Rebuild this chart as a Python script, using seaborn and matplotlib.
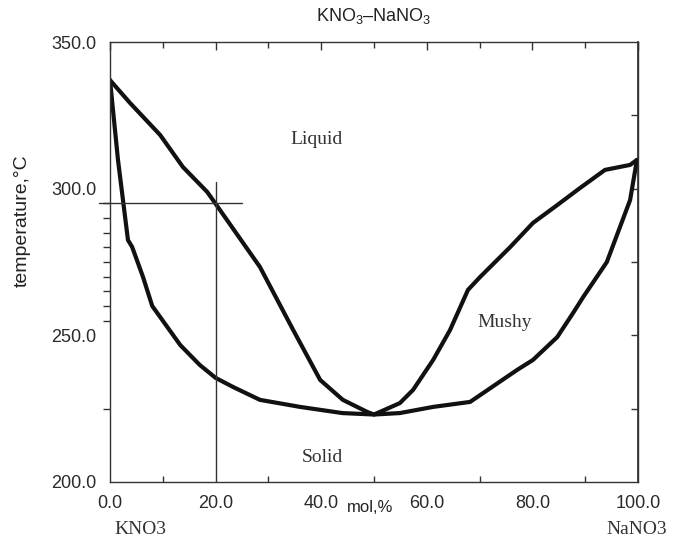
import matplotlib
matplotlib.use("Agg")
import matplotlib.pyplot as plt
import seaborn as sns
import pandas as pd

# Liquidus (upper boundary), mol % NaNO3 vs temperature
liq_x = [0.0, 3.8, 9.5, 13.8, 18.4, 19.9, 28.4, 34.7, 39.8, 44.1, 48.7, 50.0,
         54.9, 57.4, 61.2, 64.4, 67.8, 70.1, 75.8, 80.1, 84.7, 89.0, 93.75, 98.5, 99.8]
liq_t = [337.0, 329.2, 318.3, 307.4, 298.9, 295.1, 273.3, 251.8, 234.8, 228.0, 223.9, 223.0,
         226.9, 231.4, 241.6, 251.8, 265.5, 269.9, 280.1, 288.3, 294.4, 300.2, 306.4, 308.1, 309.8]
# Solidus (lower boundary)
sol_x = [0.0, 1.5, 3.4, 4.2, 6.25, 8.0, 13.3, 17.0, 20.0, 23.3, 28.4, 36.0, 44.0, 50.0,
         54.9, 61.2, 68.2, 77.1, 80.1, 84.7, 87.7, 89.6, 94.1, 98.5, 99.8]
sol_t = [337.0, 310.0, 282.5, 280.1, 269.9, 260.0, 246.7, 239.9, 235.5, 232.4, 228.0, 225.6, 223.5, 223.0,
         223.5, 225.6, 227.3, 238.2, 241.6, 249.4, 257.6, 263.0, 275.0, 296.1, 309.8]

# Reading lines at 20 mol% / 295 C
hline_x = [-2.0, 25.0]
hline_t = [295.0, 295.0]
vline_x = [20.0, 20.0]
vline_t = [200.0, 302.3]

xticks = [0, 20, 40, 60, 80, 100]
yticks = [200, 250, 300, 350]

sns.set_theme(style="white")
plt.rcParams['font.family'] = ['Liberation Sans', 'DejaVu Sans']
plt.rcParams['mathtext.fontset'] = 'custom'
plt.rcParams['mathtext.rm'] = 'Liberation Sans'
plt.rcParams['mathtext.it'] = 'Liberation Sans'

fig = plt.figure(figsize=(6.77, 5.42), dpi=100)
ax = fig.add_axes([110/677, 60/542, 528/677, 440/542])

liq = pd.DataFrame({"x": liq_x, "t": liq_t})
sol = pd.DataFrame({"x": sol_x, "t": sol_t})
sns.lineplot(data=liq, x="x", y="t", sort=False, color="#111111", lw=3.0, ax=ax, estimator=None)
sns.lineplot(data=sol, x="x", y="t", sort=False, color="#111111", lw=3.0, ax=ax, estimator=None)
ax.plot(hline_x, hline_t, color="#333333", lw=1.0, clip_on=False)
ax.plot(vline_x, vline_t, color="#333333", lw=1.0)

ax.set_xlim(0, 100)
ax.set_ylim(200, 350)
ax.set_xticks(xticks)
ax.set_xticklabels([f"{v:.1f}" for v in xticks])
ax.set_yticks(yticks)
ax.set_yticklabels([f"{v:.1f}" for v in yticks])
ax.set_xticks(list(range(10, 100, 20)), minor=True)
ax.set_yticks([225] + list(range(255, 300, 5)), minor=True)

for s in ax.spines.values():
    s.set_color("#333333")
    s.set_linewidth(1.0)

ax.tick_params(axis='x', which='major', direction='in', length=6, width=1, color='#333333',
               labelsize=13, labelcolor='#2a2a2a', pad=9, top=True)
ax.tick_params(axis='x', which='minor', direction='in', length=4, width=1, color='#333333', top=True, bottom=True)
ax.tick_params(axis='y', which='major', length=0, labelsize=13, labelcolor='#2a2a2a', pad=10)
ax.tick_params(axis='y', which='minor', direction='out', length=5, width=1, color='#333333', left=True)

sec = ax.secondary_yaxis('right')
sec.set_yticks([225, 250, 275, 300, 325])
sec.tick_params(direction='in', length=5, width=1, color='#333333', labelright=False)
sec.spines['right'].set_color("#333333")

ax.set_xlabel("mol,%", fontsize=12, color="#222222")
ax.xaxis.set_label_coords(0.492, -0.04)
ax.set_ylabel("temperature,°C", fontsize=14, color="#222222")
ax.yaxis.set_label_coords(-0.15, 0.595)
ax.set_title("KNO$_3$–NaNO$_3$", fontsize=13, color="#222222", pad=15)

serif = ['Liberation Serif', 'DejaVu Serif']
ax.text(39.2, 316.6, "Liquid", family=serif, fontsize=14, color="#333333", ha='center', va='center')
ax.text(74.8, 254.5, "Mushy", family=serif, fontsize=14, color="#333333", ha='center', va='center')
ax.text(40.2, 208.5, "Solid", family=serif, fontsize=14, color="#333333", ha='center', va='center')
fig.text(140/677, 1 - 529/542, "KNO3", family=serif, fontsize=14, color="#333333", ha='center', va='center')
fig.text(637/677, 1 - 530/542, "NaNO3", family=serif, fontsize=14, color="#333333", ha='center', va='center')

fig.savefig("out.png", dpi=100, facecolor="white")
